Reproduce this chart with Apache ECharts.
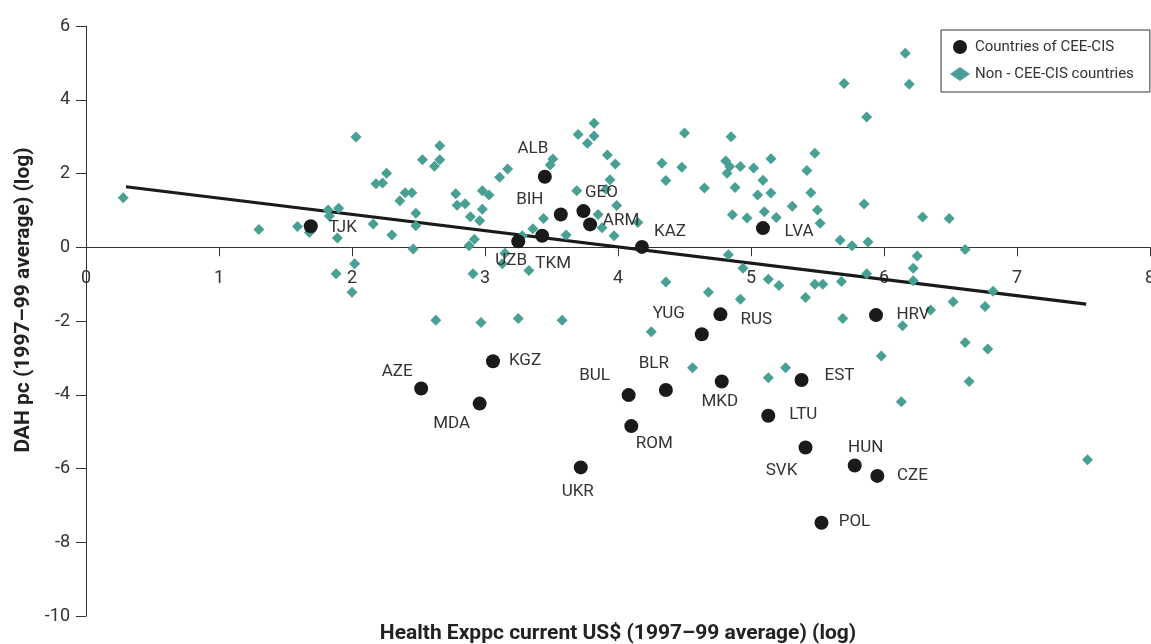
<!DOCTYPE html>
<html><head><meta charset="utf-8">
<script src="https://cdn.jsdelivr.net/npm/echarts@6/dist/echarts.min.js"></script>
<style>html,body{margin:0;padding:0;background:#fff}#c{width:1151px;height:644px}</style>
</head><body><div id="c"></div><script>
// ---- data ----
const xTicks = [0, 1, 2, 3, 4, 5, 6, 7, 8];
const yTicks = [-10, -8, -6, -4, -2, 0, 2, 4, 6];
const ceeNames = ['TJK','ALB','BIH','GEO','ARM','UZB','TKM','KAZ','LVA','YUG','RUS','HRV','AZE','KGZ','MDA','BUL','BLR','MKD','EST','LTU','ROM','UKR','SVK','HUN','CZE','POL'];
const ceeX = [1.69,3.45,3.57,3.74,3.79,3.25,3.43,4.18,5.09,4.63,4.77,5.94,2.52,3.06,2.96,4.08,4.36,4.78,5.38,5.13,4.10,3.72,5.41,5.78,5.95,5.53];
const ceeY = [0.57,1.91,0.89,0.98,0.62,0.16,0.31,0.01,0.52,-2.36,-1.82,-1.84,-3.83,-3.09,-4.24,-4.01,-3.87,-3.64,-3.60,-4.57,-4.85,-5.97,-5.43,-5.92,-6.20,-7.47];
const nonX = [0.28,1.30,1.59,1.68,1.82,1.83,1.90,1.89,2.03,2.18,
  2.16,2.02,1.88,2.00,2.23,2.26,2.30,2.36,2.40,2.45,
  2.48,2.48,2.46,2.53,2.62,2.66,2.66,2.78,2.79,2.85,
  2.89,2.88,2.92,2.96,2.98,2.98,3.03,3.11,3.17,2.91,
  3.28,3.36,3.15,3.13,3.33,3.44,3.49,3.51,3.61,3.69,
  3.70,3.77,3.82,3.82,3.85,3.88,3.92,3.98,3.94,3.91,
  3.99,3.97,4.15,4.33,4.36,4.36,4.50,4.48,4.65,4.68,
  4.83,4.85,4.81,4.84,4.82,4.92,4.88,4.86,4.97,4.92,
  4.94,5.02,5.09,5.05,5.15,5.10,5.15,5.19,5.13,5.21,
  5.31,5.41,5.42,5.48,5.45,5.50,5.52,5.48,5.54,5.67,
  5.76,5.68,5.69,5.85,5.88,5.87,5.87,6.22,6.25,6.22,
  6.29,6.49,6.52,6.35,6.61,6.82,6.76,6.61,6.78,6.64,
  7.53,2.63,2.97,3.25,3.58,4.25,4.56,5.26,5.13,6.14,
  5.98,6.13,6.16,5.70,6.19];
const nonY = [1.34,0.48,0.56,0.40,1.01,0.85,1.06,0.25,2.99,1.72,
  0.63,-0.45,-0.72,-1.22,1.74,2.01,0.33,1.26,1.48,1.48,
  0.92,0.58,-0.05,2.37,2.20,2.37,2.75,1.45,1.14,1.18,
  0.83,0.04,0.22,0.72,1.03,1.53,1.42,1.90,2.12,-0.72,
  0.31,0.50,-0.16,-0.45,-0.63,0.78,2.23,2.39,0.33,1.53,
  3.06,2.82,3.02,3.36,0.89,0.53,2.50,2.26,1.83,1.57,
  1.13,0.31,0.67,2.28,1.81,-0.94,3.10,2.17,1.61,-1.22,
  -0.20,3.00,2.34,2.19,2.01,2.19,1.62,0.88,0.79,-1.41,
  -0.57,2.15,1.82,1.42,1.47,0.96,2.40,0.81,-0.87,-1.04,
  1.11,-1.36,2.08,2.55,1.48,1.01,0.65,-1.00,-1.00,0.19,
  0.04,-0.93,-1.93,1.17,0.14,-0.72,3.53,-0.57,-0.24,-0.91,
  0.82,0.78,-1.48,-1.70,-0.06,-1.19,-1.61,-2.58,-2.76,-3.64,
  -5.76,-1.98,-2.04,-1.93,-1.98,-2.29,-3.27,-3.27,-3.54,-2.13,
  -2.95,-4.19,5.26,4.44,4.42];
const trendX = [0.30, 7.52];
const trendY = [1.64, -1.54];

// ---- styling (label offsets in px, relative to the dot centre) ----
const labelOffsets = {
  TJK:[32,2], ALB:[-12,-28], BIH:[-31,-15], GEO:[18,-18], ARM:[31,-4], UZB:[-7,19], TKM:[11,28],
  KAZ:[28,-15], LVA:[36,4], YUG:[-33,-21], RUS:[36,5], HRV:[37,0], AZE:[-24,-17], KGZ:[32,0],
  MDA:[-28,20], BUL:[-34,-19], BLR:[-12,-26], MKD:[-2,20], EST:[38,-4], LTU:[35,-1], ROM:[23,18],
  UKR:[-3,24], SVK:[-24,23], HUN:[11,-18], CZE:[35,0], POL:[33,-1]
};
const FONT = 'Roboto';
const TXT = '#333';
const GRID_TOP = 26, GRID_BOTTOM = 28, H = 644;
// x axis drawn at y = 0 (moved up from the grid bottom)
const zeroShift = (H - GRID_TOP - GRID_BOTTOM) * (0 - yTicks[0]) / (yTicks[yTicks.length - 1] - yTicks[0]);

const ceeData = ceeNames.map((n, i) => ({ name: n, value: [ceeX[i], ceeY[i]], label: { offset: labelOffsets[n] } }));
const nonData = nonX.map((x, i) => [x, nonY[i]]);
const trendData = trendX.map((x, i) => [x, trendY[i]]);

const chart = echarts.init(document.getElementById('c'), null, { renderer: 'canvas' });
chart.setOption({
  animation: false,
  backgroundColor: '#fff',
  grid: { left: 86, right: 1, top: GRID_TOP, bottom: GRID_BOTTOM, containLabel: false, outerBoundsMode: 'none' },
  legend: {
    orient: 'vertical', left: 941, top: 30,
    data: ['Countries of CEE-CIS', 'Non - CEE-CIS countries'],
    itemWidth: 20, itemHeight: 14, itemGap: 7,
    padding: [7, 16, 8, 9],
    borderColor: '#333', borderWidth: 1, borderRadius: 0, backgroundColor: '#fff',
    textStyle: { fontFamily: FONT, fontSize: 15, color: TXT, lineHeight: 20 }
  },
  xAxis: {
    type: 'value', min: xTicks[0], max: xTicks[xTicks.length - 1], interval: 1,
    position: 'bottom', offset: -zeroShift,
    axisLine: { show: true, onZero: false, lineStyle: { color: '#333', width: 1 } },
    axisTick: { show: true, length: 9, lineStyle: { color: '#333' } },
    axisLabel: { fontFamily: FONT, fontSize: 18, color: TXT, margin: 22 },
    splitLine: { show: false },
    name: 'Health Exppc current US$ (1997–99 average) (log)', nameLocation: 'middle', nameGap: zeroShift + 7,
    nameTextStyle: { fontFamily: FONT, fontWeight: 'bold', fontSize: 21, color: '#222' }
  },
  yAxis: {
    type: 'value', min: yTicks[0], max: yTicks[yTicks.length - 1], interval: 2,
    axisLine: { show: true, onZero: false, lineStyle: { color: '#333', width: 1 } },
    axisTick: { show: true, length: 10, lineStyle: { color: '#333' } },
    axisLabel: { fontFamily: FONT, fontSize: 18, color: TXT, margin: 16 },
    splitLine: { show: false },
    name: 'DAH pc (1997–99 average) (log)', nameLocation: 'middle', nameGap: 52,
    nameTextStyle: { fontFamily: FONT, fontWeight: 'bold', fontSize: 21, color: '#222', padding: [0, 0, 0, 42] }
  },
  series: [{
    type: 'line', name: 'trend', data: trendData, symbol: 'none', z: 2,
    lineStyle: { color: '#1a1a1a', width: 3.2 }, silent: true
  }, {
    type: 'scatter', name: 'Non - CEE-CIS countries', data: nonData, symbol: 'diamond', symbolSize: 11, z: 3,
    itemStyle: { color: '#48a094', opacity: 1 }
  }, {
    type: 'scatter', name: 'Countries of CEE-CIS', data: ceeData, symbol: 'circle', symbolSize: 14, z: 4,
    itemStyle: { color: '#1a1a1a', opacity: 1 },
    label: { show: true, position: 'inside', formatter: '{b}', fontFamily: FONT, fontSize: 17, color: TXT }
  }]
});
</script></body></html>
